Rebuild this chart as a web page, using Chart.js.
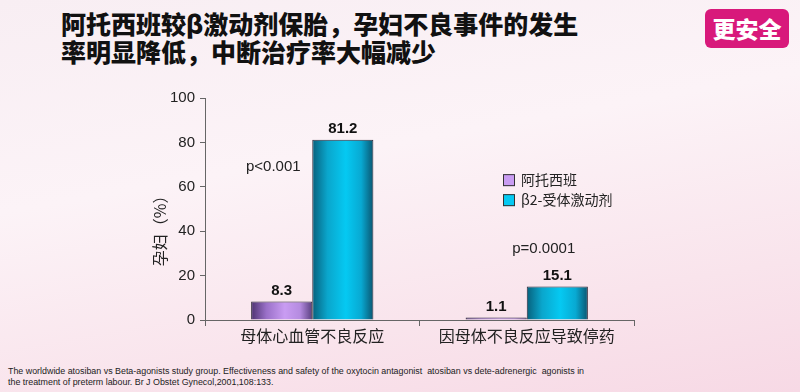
<!DOCTYPE html>
<html>
<head>
<meta charset="utf-8">
<script src="https://cdn.jsdelivr.net/npm/chart.js@4"></script>
<style>
  body {
    margin: 0;
    width: 800px;
    height: 392px;
    overflow: hidden;
    position: relative;
    background: linear-gradient(170deg, #f8eef3 0%, #fcf3f7 40%, #f9e4ec 75%, #f7d9e5 100%);
    font-family: "Noto Sans CJK SC", sans-serif;
  }
  #title {
    position: absolute;
    left: 61px;
    top: 9px;
    font-size: 25px;
    line-height: 28px;
    font-weight: 900;
    color: #111;
    white-space: nowrap;
  }
  #badge {
    position: absolute;
    left: 705px;
    top: 9px;
    width: 84px;
    height: 39px;
    border-radius: 6px;
    background: #d8197b;
    color: #fff;
    font-size: 23px;
    font-weight: 900;
    line-height: 39px;
    text-align: center;
  }
  #note {
    position: absolute;
    left: 8px;
    top: 366px;
    font-family: "Liberation Sans", Arial, sans-serif;
    font-size: 8.9px;
    line-height: 11px;
    color: #222;
    white-space: nowrap;
  }
  canvas { position: absolute; left: 0; top: 0; }
</style>
</head>
<body>
<div id="title">阿托西班较β激动剂保胎，孕妇不良事件的发生<br>率明显降低，中断治疗率大幅减少</div>
<div id="badge">更安全</div>
<div id="note">The worldwide atosiban vs Beta-agonists study group. Effectiveness and safety of the oxytocin antagonist&nbsp; atosiban vs dete-adrenergic&nbsp; agonists in<br>the treatment of preterm labour. Br J Obstet Gynecol,2001,108:133.</div>
<canvas id="chart" width="800" height="392"></canvas>
<script>
const categories = ["母体心血管不良反应", "因母体不良反应导致停药"];
const atosiban = [8.3, 1.1];
const betaAgonist = [81.2, 15.1];
const seriesNames = ["阿托西班", "β2-受体激动剂"];
const pValues = ["p<0.001", "p=0.0001"];
const yTicks = [0, 20, 40, 60, 80, 100];

const catPct = 0.57;
const gradStops = [
  ["#4d3370", "#9a70c8", "#c99cf2", "#b58be0", "#5a3f80"],
  ["#07607c", "#0aa6cc", "#05c9f2", "#08a9d2", "#0a5570"]
];

function barFill(c) {
  const chart = c.chart;
  const stops = gradStops[c.datasetIndex];
  if (c.type !== "data" || !chart.chartArea) return stops[2];
  const area = chart.chartArea;
  const catW = (area.right - area.left) / categories.length;
  const barW = catW * catPct / 2;
  const center = chart.scales.x.getPixelForValue(c.dataIndex);
  const left = center - barW + c.datasetIndex * barW;
  const g = chart.ctx.createLinearGradient(left, 0, left + barW, 0);
  g.addColorStop(0, stops[0]);
  g.addColorStop(0.25, stops[1]);
  g.addColorStop(0.55, stops[2]);
  g.addColorStop(0.8, stops[3]);
  g.addColorStop(1, stops[4]);
  return g;
}

const extras = {
  id: "extras",
  afterDatasetsDraw(chart) {
    const ctx = chart.ctx;
    const xs = chart.scales.x, ys = chart.scales.y;
    ctx.save();
    // value labels
    ctx.fillStyle = "#111";
    ctx.font = "bold 15px 'Liberation Sans', Arial, sans-serif";
    ctx.textAlign = "center";
    ctx.textBaseline = "middle";
    chart.data.datasets.forEach((ds, di) => {
      chart.getDatasetMeta(di).data.forEach((el, i) => {
        ctx.fillText(ds.data[i].toFixed(1), el.x, el.y - 11);
      });
    });
    // p values
    ctx.font = "15px 'Liberation Sans', Arial, sans-serif";
    ctx.fillStyle = "#222";
    ctx.fillText(pValues[0], xs.getPixelForValue(0) - 39, ys.getPixelForValue(69));
    ctx.fillText(pValues[1], xs.getPixelForValue(1) + 17, ys.getPixelForValue(32));
    // legend
    ctx.textAlign = "left";
    ctx.font = "14px 'Noto Sans CJK SC', sans-serif";
    chart.data.datasets.forEach((ds, di) => {
      const y = ys.getPixelForValue(63) + di * 20;
      ctx.fillStyle = gradStops[di][2];
      ctx.fillRect(503, y - 6, 12, 12);
      ctx.strokeStyle = "#333";
      ctx.lineWidth = 1;
      ctx.strokeRect(503.5, y - 5.5, 11, 11);
      ctx.fillStyle = "#222";
      ctx.fillText(ds.label, 521, y);
    });
    // y axis title
    ctx.translate(160, ys.getPixelForValue(42));
    ctx.rotate(-Math.PI / 2);
    ctx.textAlign = "center";
    ctx.font = "16px 'Noto Sans CJK SC', sans-serif";
    ctx.fillText("孕妇（%）", 0, 0);
    ctx.restore();
  }
};

const barStyle = {
  categoryPercentage: catPct,
  barPercentage: 1,
  backgroundColor: barFill,
  borderColor: "#2e2a3a",
  borderWidth: 1
};

new Chart(document.getElementById("chart"), {
  type: "bar",
  data: {
    labels: categories,
    datasets: [
      Object.assign({ label: seriesNames[0], data: atosiban }, barStyle),
      Object.assign({ label: seriesNames[1], data: betaAgonist }, barStyle)
    ]
  },
  options: {
    responsive: false,
    animation: false,
    layout: { padding: { top: 98, right: 166, left: 0, bottom: 0 } },
    plugins: { legend: { display: false }, tooltip: { enabled: false } },
    scales: {
      x: {
        afterFit(s) { s.height = 72; },
        border: { color: "#666", width: 1 },
        grid: { drawOnChartArea: false, tickLength: 6, color: "#666", offset: true },
        ticks: { color: "#222", padding: 0, font: { size: 16, family: "'Noto Sans CJK SC', sans-serif" } }
      },
      y: {
        min: 0,
        max: 100,
        afterFit(s) { s.width = 205; },
        afterBuildTicks(s) { s.ticks = yTicks.map(v => ({ value: v })); },
        border: { color: "#666", width: 1 },
        grid: { drawOnChartArea: false, tickLength: 5, color: "#666" },
        ticks: { color: "#222", padding: 5, font: { size: 15, family: "'Liberation Sans', Arial, sans-serif" } }
      }
    }
  },
  plugins: [extras]
});
</script>
</body>
</html>
